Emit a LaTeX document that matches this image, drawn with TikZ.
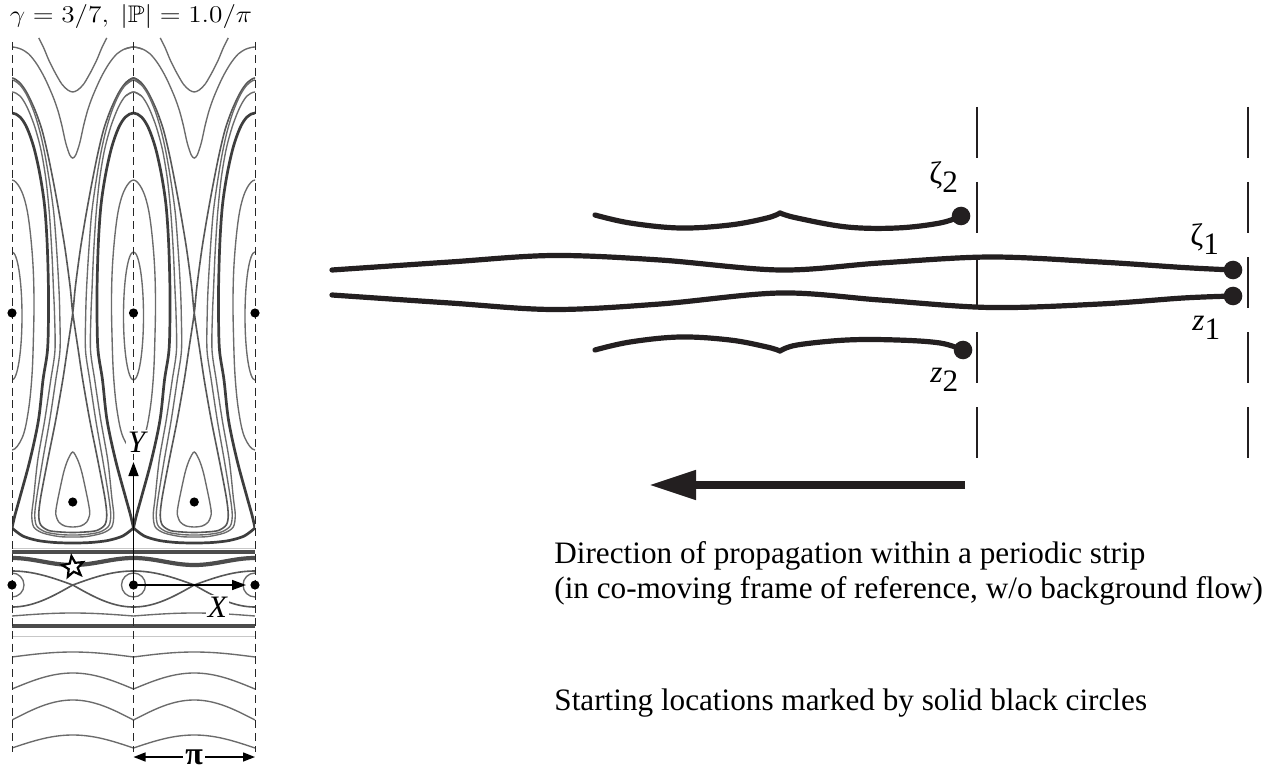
\documentclass[tikz,border=0pt]{standalone}
\usepackage{fontspec}
\setmainfont{Liberation Serif}
\usepackage{amssymb}
\usetikzlibrary{arrows.meta,shapes.geometric}
\definecolor{thinc}{gray}{0.42}
\definecolor{medc}{gray}{0.34}
\definecolor{thickc}{gray}{0.24}
\definecolor{barc}{gray}{0.3}
\definecolor{inkc}{RGB}{35,31,32}
\newcommand\lowsub[1]{\raisebox{-4.5pt}{#1}}
\begin{document}
\begin{tikzpicture}[x=0.5pt,y=-0.5pt,
  thinS/.style={draw=thinc, line width=0.68pt},
  medS/.style={draw=medc, line width=0.8pt},
  thickS/.style={draw=thickc, line width=1.35pt},
  barS/.style={draw=barc, line width=2.1pt},
  faintS/.style={draw=black!22, line width=0.4pt},
  gridS/.style={draw=black!85, line width=0.5pt, dash pattern=on 4pt off 2.4pt},
  axisS/.style={draw=black, line width=0.75pt, -{Triangle[length=7pt,width=5pt]}},
  trajS/.style={draw=inkc, line width=2.6pt, line cap=round},
  stripS/.style={draw=inkc, line width=1.35pt, dash pattern=on 25.5pt off 12pt},
  txt/.style={font=\fontsize{15.6}{17.5}\selectfont, inner sep=0pt},
  lbl/.style={fill=white, inner sep=1pt, font=\fontsize{15.6}{17.5}\selectfont\itshape}
]
\useasboundingbox (0,0) rectangle (1273,770);
\fill[white] (0,0) rectangle (1273,770);

% ---------------- left panel ----------------
\node[font=\fontsize{12}{14}\selectfont, inner sep=0pt, xscale=1.14, anchor=base] (title) at (131,23) {$\gamma = 3/7,\ |\mathbb{P}| = 1.0/\pi$};

\begin{scope}
\clip (12,36) rectangle (255,756);
\foreach \c in {12,133.5,255}{
 \begin{scope}[shift={(\c,0)}]
  \draw[thinS] (0,316) ellipse [x radius=10, y radius=64];
  \draw[thinS] plot[smooth cycle, tension=0.6] coordinates {(0,180)(8,188)(14,205)(18,230)(21,265)(22,300)(21.5,335)(20,375)(16.5,410)(10.5,437)(0,450)(-10.5,437)(-16.5,410)(-20,375)(-21.5,335)(-22,300)(-21,265)(-18,230)(-14,205)(-8,188)};
  \draw[thickS] plot[smooth, tension=0.55] coordinates {(0,528)(3,515)(8,497)(18,460)(26.5,420)(31,380)(35.5,350)(36.5,313)(36.3,280)(35,240)(32.5,205)(28,175)(22,148)(15,128)(8,117)(0,113)(-8,117)(-15,128)(-22,148)(-28,175)(-32.5,205)(-35,240)(-36.3,280)(-36.5,313)(-35.5,350)(-31,380)(-26.5,420)(-18,460)(-8,497)(-3,515)(0,528)};
  \draw[thinS] (0,585) circle [radius=12];
 \end{scope}
}
\foreach \m in {72.75,194.25}{
 \begin{scope}[shift={(\m,0)}]
  % top U and wave
  \draw[thinS] plot[smooth] coordinates {(-34,38)(-29,48)(-24,60)(-18,72)(-11,84)(-5,90)(0,92)(5,90)(11,84)(18,72)(24,60)(29,48)(34,38)};
  \draw[thinS] plot[smooth] coordinates {(-69.5,49)(-60.75,47)(-52,49)(-44,54)(-36,64)(-28,78)(-20,96)(-15,110)(-11,125)(-7,143)(-3,155)(0,158)(3,155)(7,143)(11,125)(15,110)(20,96)(28,78)(36,64)(44,54)(52,49)(60.75,47)(69.5,49)};
  % separatrix through the saddle (X) and loop round the lower cell
  \draw[medS] plot[smooth, tension=0.5] coordinates {(-68.75,83)(-60.75,78)(-52.75,83)(-45.75,93)(-37.75,110)(-30.75,130)(-24.75,155)(-18.75,185)(-13.25,215)(-8.25,245)(-4.75,270)(-2.25,290)(0,313)(5.5,350)(10,380)(17,420)(25,460)(32,497)(34,515)(32,525)(24,530.5)(12,532)(0,532.5)(-12,532)(-24,530.5)(-32,525)(-34,515)(-32,497)(-25,460)(-17,420)(-10,380)(-5.5,350)(0,313)(2.25,290)(4.75,270)(8.25,245)(13.25,215)(18.75,185)(24.75,155)(30.75,130)(37.75,110)(45.75,93)(52.75,83)(60.75,78)(68.75,83)};
  % second line (peak 80)
  \draw[thinS] plot[smooth, tension=0.5] coordinates {(-68.75,85)(-60.75,80)(-52.75,85)(-45.75,95.5)(-38.75,112)(-32.75,132)(-27.75,155)(-22.75,185)(-18.75,215)(-15.75,255)(-13.75,290)(-13,313)(-12.75,350)(-17,380)(-23,420)(-30,460)(-36,497)(-38,515)(-36,526)(-27,532)(-13,534.5)(0,535)(13,534.5)(27,532)(36,526)(38,515)(36,497)(30,460)(23,420)(17,380)(12.75,350)(13,313)(13.75,290)(15.75,255)(18.75,215)(22.75,185)(27.75,155)(32.75,132)(38.75,112)(45.75,95.5)(52.75,85)(60.75,80)(68.75,85)};
  % third line (peak 92)
  \draw[thinS] plot[smooth, tension=0.5] coordinates {(-68.75,96)(-60.75,92)(-52.75,96)(-45.75,107)(-38.25,126)(-31.75,150)(-26.75,180)(-23.25,215)(-20.75,255)(-19.25,290)(-18.25,313)(-17.75,350)(-22,380)(-28,420)(-35,460)(-39,497)(-41,515)(-39,527)(-30,533)(-14,536.5)(0,537)(14,536.5)(30,533)(39,527)(41,515)(39,497)(35,460)(28,420)(22,380)(17.75,350)(18.25,313)(19.25,290)(20.75,255)(23.25,215)(26.75,180)(31.75,150)(38.25,126)(45.75,107)(52.75,96)(60.75,92)(68.75,96)};
  % inner closed loop
  \draw[thinS] plot[smooth cycle] coordinates {(0,452)(5,460)(9,472)(13,490)(16,505)(17,514)(14,522)(8,526)(0,527)(-8,526)(-14,522)(-17,514)(-16,505)(-13,490)(-9,472)(-5,460)};
  % thick bottom boundary
  \draw[thickS] plot[smooth] coordinates {(-60.75,528)(-50,536)(-35,540.5)(-18,542.5)(0,543)(18,542.5)(35,540.5)(50,536)(60.75,528)};
 \end{scope}
}
% lower band
\draw[faintS] (12,548) -- (255,548);
\draw[barS] (12,552) -- (255,552);
\draw[barS] plot[domain=0:243, samples=80, smooth] ({\x+12},{561.5-3.5*cos(2.962963*\x)});
\draw[medS] plot[domain=0:243, samples=121] ({\x+12},{585-14*abs(cos(1.481481*\x))});
\draw[medS] plot[domain=0:243, samples=121] ({\x+12},{585+22*abs(cos(1.481481*\x))});
\draw[thinS] plot[domain=0:243, samples=121] ({\x+12},{616-3*abs(sin(1.481481*\x))});
\draw[barS] (12,626) -- (255,626);
\draw[faintS] (12,636) -- (255,636);
\draw[thinS] plot[domain=0:243, samples=121] ({\x+12},{657-5*abs(sin(1.481481*\x))});
\draw[thinS] plot[domain=0:243, samples=121] ({\x+12},{689-16*abs(sin(1.481481*\x))});
\draw[thinS] plot[domain=0:243, samples=121] ({\x+12},{720-20*abs(sin(1.481481*\x))});
\draw[thinS] plot[domain=0:243, samples=121] ({\x+12},{748-13*abs(sin(1.481481*\x))});
\end{scope}

% grid lines
\foreach \c in {12,133.5,255}{ \draw[gridS] (\c,42) -- (\c,752); }

% star marker
\node[star, star points=5, star point ratio=2.3, draw=black, fill=white, line width=1.1pt, minimum size=11pt, inner sep=0pt, rotate=8] (starm) at (73,567) {};

% vortex centres
\foreach \px/\py/\n in {12/313/a1,133.5/313/a2,255/313/a3,72.75/502/b1,194.25/502/b2,12/585/c1,133.5/585/c2,255/585/c3}{
  \coordinate (\n) at (\px,\py);
  \fill (\n) circle [radius=4.6];
}

% axes
\coordinate (O) at (133.5,585);
\coordinate (Ytip) at (133.5,462);
\coordinate (Xtip) at (246,585);
\draw[axisS] (O) -- (Ytip);
\draw[axisS] (O) -- (Xtip);
\node[lbl] (Ylab) at (136.5,442) {Y};
\node[lbl] (Xlab) at (217.5,607) {X};

% period arrow
\coordinate (piL) at (133.5,757);
\coordinate (piR) at (255,757);
\draw[black, line width=0.7pt, {Triangle[length=6pt,width=4.5pt]}-{Triangle[length=6pt,width=4.5pt]}] (piL) -- (piR);
\node[fill=white, inner sep=1pt, font=\fontsize{16}{18}\selectfont\bfseries] (pilab) at (194.25,757) {π};

% ---------------- right panel ----------------
\draw[stripS] (977,107) -- (977,458);
\draw[stripS] (1248,107) -- (1248,458);

\coordinate (zetaTwo) at (961,216);
\coordinate (zTwo) at (963,350);
\coordinate (zetaOne) at (1233,270);
\coordinate (zOne) at (1233,296);
\coordinate (startU) at (332,270);
\coordinate (startL) at (332,295);

\draw[trajS] plot[smooth, tension=0.55] coordinates {(startU)(450,262)(553,255.5)(660,260)(780,270)(880,263)(990,257)(1100,262)(1183,267.5)(zetaOne)};
\draw[trajS] plot[smooth, tension=0.55] coordinates {(startL)(450,303)(553,309.5)(660,304)(780,293)(880,300)(990,307.5)(1100,304)(1183,298)(zOne)};
\draw[trajS] plot[smooth, tension=0.6] coordinates {(595,215)(630,223)(680,228)(730,225)(767,218)(780,213)};
\draw[trajS] plot[smooth, tension=0.6] coordinates {(780,213)(797,218)(847,227)(897,228)(940,223)(zetaTwo)};
\draw[trajS] plot[smooth, tension=0.6] coordinates {(595,350)(630,342)(680,337)(730,340)(767,347)(780,351)};
\draw[trajS] plot[smooth, tension=0.6] coordinates {(780,351)(797,345)(847,340)(897,340)(940,343)(zTwo)};

\foreach \n in {zetaTwo,zTwo,zetaOne,zOne}{ \fill[inkc] (\n) circle [radius=9.3]; }

\node[txt, anchor=base west] (lzetaTwo) at (929,184) {ζ\lowsub{2}};
\node[txt, anchor=base west] (lzTwo) at (930,382) {\textit{z}\lowsub{2}};
\node[txt, anchor=base west] (lzetaOne) at (1190,246) {ζ\lowsub{1}};
\node[txt, anchor=base west] (lzOne) at (1192,330) {\textit{z}\lowsub{1}};

% propagation arrow
\coordinate (arS) at (965,485);
\coordinate (arE) at (649,485);
\draw[draw=inkc, line width=3.85pt, -{Triangle[length=23.5pt,width=14pt]}] (arS) -- (arE);

\node[txt, anchor=base west] (dirA) at (554,563) {Direction of propagation within a periodic strip};
\node[txt, anchor=base west] (dirB) at (554,598) {(in co-moving frame of reference, w/o background flow)};
\node[txt, anchor=base west] (startT) at (554,710) {Starting locations marked by solid black circles};
\end{tikzpicture}
\end{document}
